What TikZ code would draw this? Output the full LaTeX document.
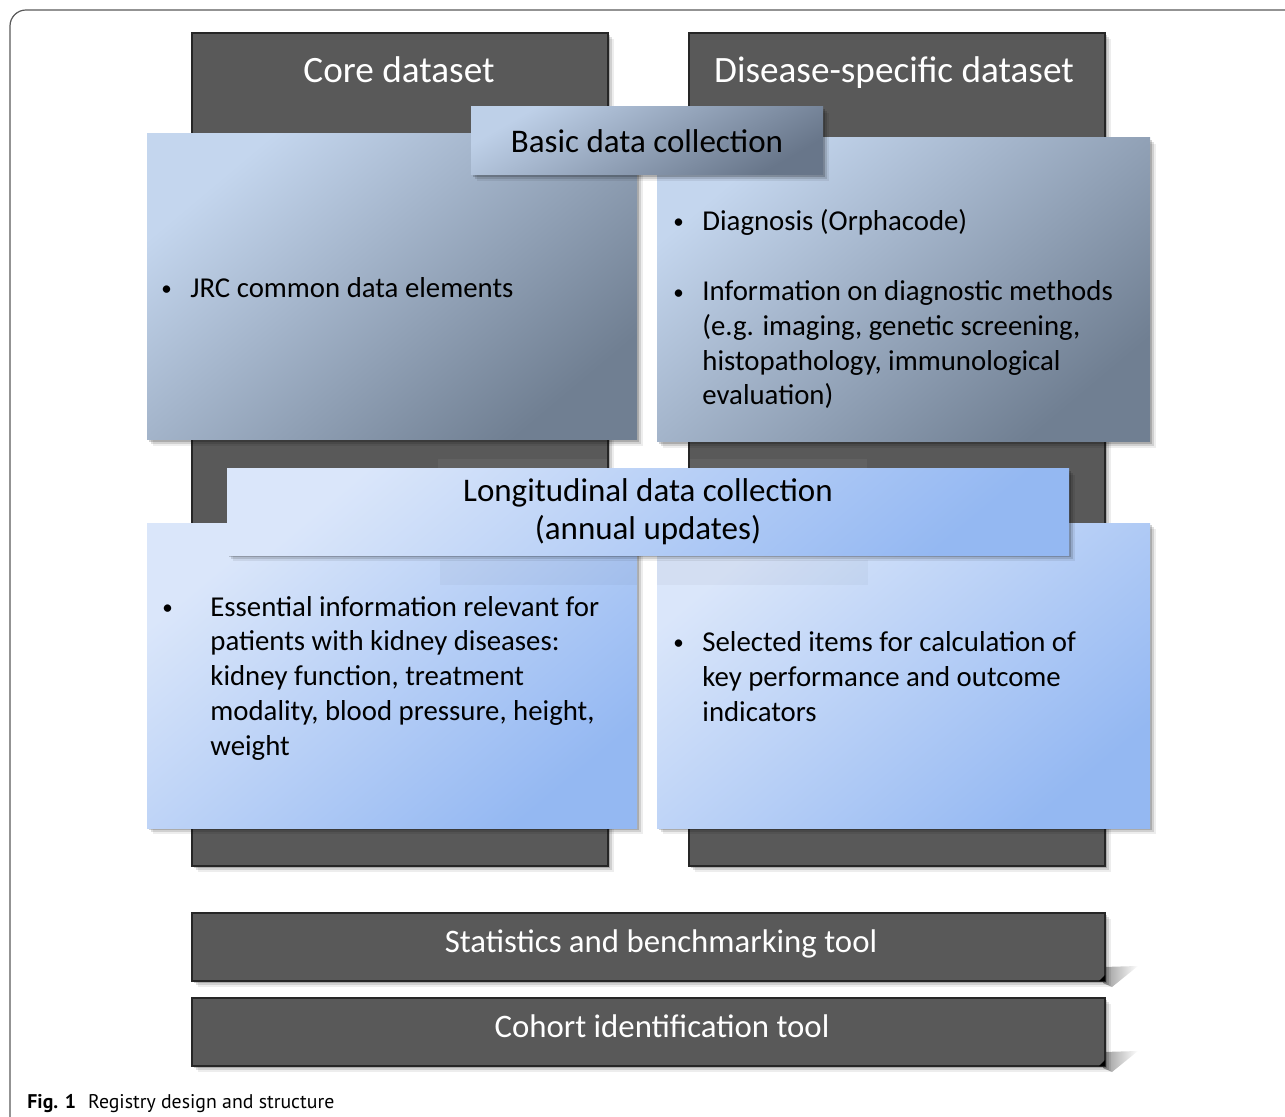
\documentclass[tikz,border=0pt]{standalone}
\usepackage{fontspec}
\setmainfont{Carlito}
\newfontfamily\capfont{PT Sans}
\usetikzlibrary{shadows,fadings}
\definecolor{dk}{HTML}{595959}
\definecolor{upA}{RGB}{196,214,238}
\definecolor{upB}{RGB}{112,127,146}
\definecolor{bsA}{RGB}{190,208,232}
\definecolor{bsB}{RGB}{104,118,138}
\definecolor{loA}{RGB}{218,230,250}
\definecolor{loB}{RGB}{148,184,242}
\tikzset{
  softshadow/.style={
    drop shadow={shadow xshift=1pt,shadow yshift=-1pt,opacity=.18,fill=black},
    drop shadow={shadow xshift=2pt,shadow yshift=-2pt,opacity=.12,fill=black},
    drop shadow={shadow xshift=3.2pt,shadow yshift=-3.2pt,opacity=.07,fill=black}},
  darkbox/.style={fill=dk, draw=black!85, line width=0.8pt, inner sep=0pt, outer sep=0pt, anchor=north west, softshadow},
  upbox/.style={top color=upA, bottom color=upB, shading angle=40, inner sep=0pt, outer sep=0pt, anchor=north west, softshadow},
  basicbox/.style={top color=bsA, bottom color=bsB, shading angle=30, inner sep=0pt, outer sep=0pt, anchor=north west, softshadow},
  lobox/.style={top color=loA, bottom color=loB, shading angle=40, inner sep=0pt, outer sep=0pt, anchor=north west, softshadow},
  ttl/.style={text=white, font=\fontsize{18.6}{22}\selectfont, inner sep=0pt, anchor=base},
  sub/.style={font=\fontsize{16.5}{19}\selectfont, align=center},
  body/.style={font=\fontsize{14.4}{17.35}\selectfont, inner sep=0pt, anchor=base west, align=left},
  bul/.style={font=\fontsize{10.5}{12}\selectfont, inner sep=0pt, anchor=base west},
  tooltext/.style={text=white, font=\fontsize{16.4}{19}\selectfont, inner sep=0pt, anchor=base},
  toolbox/.style={fill=dk, draw=black!85, line width=0.8pt, inner sep=0pt, outer sep=0pt, anchor=north west, minimum width=456.5pt, minimum height=34pt, softshadow},
}
\begin{document}
\begin{tikzpicture}[x=0.5pt,y=-0.5pt]
\useasboundingbox (0,0) rectangle (1285,1117);
% outer frame
\draw[black!65, line width=0.6pt, rounded corners=8pt] (10,1117) -- (10,10) -- (1285,10);

% dark columns
\node[darkbox, minimum width=208pt, minimum height=416.5pt] (core) at (192,33) {};
\node[darkbox, minimum width=208pt, minimum height=416.5pt] (disease) at (689,33) {};
\node[ttl] (coretitle) at (399,83) {Core dataset};
\node[ttl] (distitle) at (894,83) {Disease-specific dataset};

% faint strip artefacts
\fill[white, opacity=.05] (438,459) rectangle (607,470);
\fill[white, opacity=.05] (690,459) rectangle (867,470);

% upper boxes
\node[upbox, minimum width=245pt, minimum height=153pt] (ul) at (147,134) {};
\node[upbox, minimum width=246.5pt, minimum height=152pt] (ur) at (657,138) {};
\node[basicbox, minimum width=176pt, minimum height=34pt, font=\fontsize{16.5}{19}\selectfont] (basic) at (471,107) {Basic data collection};

\node[bul] (ulb) at (161,296) {•};
\node[body] (ult) at (190,298) {JRC common data elements};
\node[bul] (urb1) at (673,229) {•};
\node[body] (urt1) at (702,231) {Diagnosis (Orphacode)};
\node[bul] (urb2) at (673,300) {•};
\node[body] (urt2) at (702,405) {Information on diagnostic methods\\(e.g. imaging, genetic screening,\\histopathology, immunological\\evaluation)};

% lower boxes
\node[lobox, minimum width=245pt, minimum height=152.5pt] (ll) at (147,523) {};
\node[lobox, minimum width=246.5pt, minimum height=152.5pt] (lr) at (657,523) {};
\fill[black, opacity=.03] (440,560) rectangle (637,585);
\fill[black, opacity=.03] (657,560) rectangle (868,585);
\node[lobox, minimum width=421pt, minimum height=43pt, sub] (longi) at (227,469) {Longitudinal data collection\\(annual updates)};

\node[bul] (llb) at (162,614) {•};
\node[body] (llt) at (210,755) {Essential information relevant for\\patients with kidney diseases:\\kidney function, treatment\\modality, blood pressure, height,\\weight};
\node[bul] (lrb) at (673,649) {•};
\node[body] (lrt) at (702,721) {Selected items for calculation of\\key performance and outcome\\indicators};

% tools
\fill[black!40, path fading=east] (1103,967) -- (1138,966) -- (1112,987) -- (1103,983) -- cycle;
\fill[black!40, path fading=east] (1103,1052) -- (1138,1051) -- (1112,1072) -- (1103,1068) -- cycle;
\node[toolbox] (stats) at (192,913) {};
\node[tooltext] (statstxt) at (661,952) {Statistics and benchmarking tool};
\node[toolbox] (cohort) at (192,998) {};
\node[tooltext] (cohorttxt) at (662,1037) {Cohort identification tool};
\fill[black] (stats.south east) ++(-6,0) -- ++(6,-6) -- ++(0,6) -- cycle;
\fill[black] (cohort.south east) ++(-6,0) -- ++(6,-6) -- ++(0,6) -- cycle;

% caption
\node[anchor=base west, inner sep=0pt, font=\capfont\fontsize{9.9}{11}\selectfont] (cap) at (27,1108) {\textbf{Fig. 1}\hspace{6pt}Registry design and structure};
\end{tikzpicture}
\end{document}
